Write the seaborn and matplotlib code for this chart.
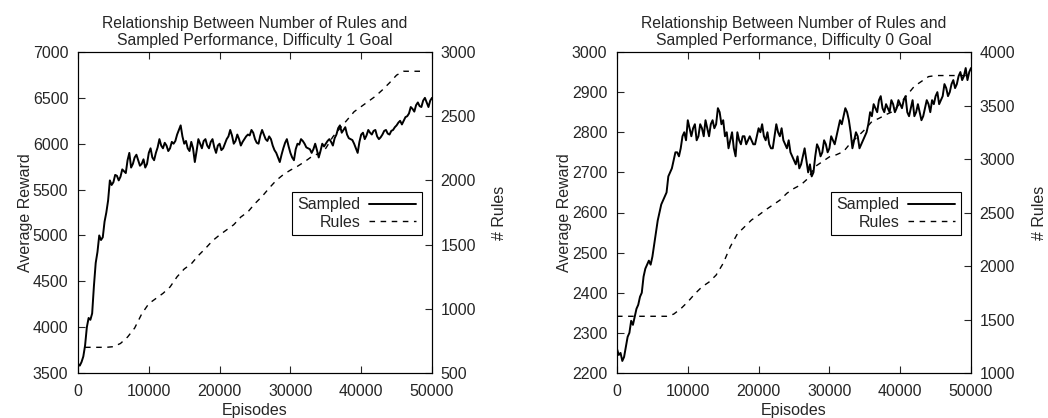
import numpy as np
import pandas as pd
import matplotlib
matplotlib.use("Agg")
import matplotlib.pyplot as plt
import seaborn as sns

# Reward curves read every 250 episodes, rule counts every 1000
episodes = list(range(0, 50001, 250))

sampled_d1 = [
    3600, 3580, 3620, 3680, 3800, 4000, 4100, 4080, 4150, 4450,
    4700, 4820, 5000, 4950, 4980, 5150, 5250, 5380, 5600, 5550,
    5580, 5660, 5650, 5600, 5640, 5720, 5700, 5680, 5820, 5900,
    5740, 5780, 5850, 5880, 5820, 5760, 5780, 5830, 5740, 5780,
    5900, 5950, 5850, 5820, 5900, 5960, 6050, 5980, 5950, 6010,
    5980, 5920, 5950, 6020, 6000, 6030, 6100, 6150, 6200, 6080,
    6000, 6030, 5950, 5920, 6020, 5950, 5800, 5920, 6050, 6000,
    5950, 6030, 6050, 5980, 5950, 6020, 6050, 5960, 5900, 5980,
    6000, 5930, 5950, 6000, 6050, 6080, 6150, 6090, 6000, 6030,
    6100, 6050, 5980, 6020, 6050, 6080, 6100, 6090, 6150, 6120,
    6050, 6010, 6000, 6090, 6150, 6100, 6050, 6030, 6080, 6050,
    5980, 5930, 5900, 5850, 5800, 5880, 5950, 6010, 6050, 5970,
    5900, 5850, 5820, 5940, 6000, 5990, 6050, 6030, 6000, 5960,
    5950, 5940, 5900, 5940, 6000, 5930, 5850, 5920, 6000, 5970,
    6000, 6030, 6050, 6020, 5980, 6060, 6100, 6170, 6200, 6120,
    6150, 6180, 6100, 6060, 6050, 6040, 6000, 5950, 5900, 6020,
    6100, 6120, 6050, 6090, 6150, 6120, 6100, 6140, 6150, 6080,
    6050, 6070, 6100, 6140, 6150, 6110, 6100, 6140, 6150, 6180,
    6200, 6230, 6250, 6210, 6250, 6290, 6300, 6330, 6400, 6380,
    6350, 6420, 6450, 6410, 6400, 6470, 6500, 6450, 6400, 6470,
    6500,
]

sampled_d0 = [
    2260, 2245, 2250, 2230, 2240, 2265, 2290, 2300, 2330, 2320,
    2340, 2360, 2370, 2390, 2400, 2440, 2460, 2470, 2480, 2470,
    2490, 2520, 2550, 2580, 2600, 2620, 2630, 2640, 2650, 2690,
    2700, 2710, 2730, 2750, 2750, 2740, 2760, 2790, 2800, 2780,
    2830, 2810, 2790, 2810, 2820, 2780, 2790, 2820, 2810, 2790,
    2830, 2810, 2790, 2820, 2830, 2810, 2820, 2860, 2850, 2820,
    2830, 2790, 2800, 2760, 2780, 2800, 2760, 2740, 2800, 2780,
    2770, 2790, 2790, 2770, 2780, 2790, 2780, 2770, 2770, 2790,
    2810, 2800, 2820, 2790, 2780, 2800, 2770, 2760, 2760, 2790,
    2820, 2800, 2790, 2810, 2780, 2770, 2760, 2780, 2750, 2740,
    2730, 2720, 2740, 2710, 2720, 2740, 2760, 2730, 2700, 2720,
    2690, 2700, 2740, 2770, 2760, 2740, 2750, 2780, 2770, 2750,
    2760, 2790, 2780, 2770, 2790, 2810, 2830, 2820, 2840, 2860,
    2850, 2830, 2800, 2760, 2780, 2800, 2790, 2760, 2770, 2780,
    2790, 2800, 2820, 2850, 2840, 2870, 2860, 2850, 2880, 2890,
    2860, 2850, 2870, 2860, 2850, 2880, 2870, 2850, 2860, 2880,
    2870, 2860, 2880, 2890, 2850, 2840, 2860, 2880, 2840, 2850,
    2870, 2850, 2830, 2840, 2860, 2880, 2870, 2850, 2880, 2870,
    2890, 2900, 2870, 2880, 2890, 2920, 2910, 2890, 2900, 2920,
    2930, 2910, 2920, 2940, 2950, 2930, 2940, 2960, 2930, 2950,
    2960,
]

rules_d1_ep = list(range(1000, 49001, 1000))
rules_d1 = [
    700, 700, 700, 700, 705, 730, 780, 850, 960, 1040,
    1080, 1120, 1170, 1250, 1310, 1350, 1415, 1470, 1530, 1575,
    1615, 1655, 1715, 1755, 1820, 1875, 1940, 2000, 2045, 2080,
    2110, 2145, 2185, 2210, 2250, 2340, 2405, 2470, 2535, 2575,
    2615, 2655, 2705, 2760, 2820, 2850, 2850, 2850, 2850,
]

rules_d0_ep = list(range(0, 50001, 1000))
rules_d0 = [
    1530, 1530, 1530, 1530, 1530, 1530, 1530, 1530, 1550, 1600,
    1665, 1740, 1805, 1850, 1915, 2025, 2180, 2300, 2365, 2430,
    2475, 2525, 2570, 2615, 2680, 2725, 2760, 2820, 2930, 2975,
    3020, 3040, 3070, 3150, 3210, 3275, 3350, 3380, 3415, 3445,
    3520, 3600, 3680, 3725, 3770, 3780, 3780, 3780, 3780, 3780,
    3780,
]

panels = [
    dict(title="Relationship Between Number of Rules and\nSampled Performance, Difficulty 1 Goal",
         sampled=sampled_d1, rules_ep=rules_d1_ep, rules=rules_d1,
         ylim=(3500, 7000), yticks=range(3500, 7001, 500),
         y2lim=(500, 3000), y2ticks=range(500, 3001, 500),
         rect=[78 / 1048, 45 / 418, 354 / 1048, 321 / 418]),
    dict(title="Relationship Between Number of Rules and\nSampled Performance, Difficulty 0 Goal",
         sampled=sampled_d0, rules_ep=rules_d0_ep, rules=rules_d0,
         ylim=(2200, 3000), yticks=range(2200, 3001, 100),
         y2lim=(1000, 4000), y2ticks=range(1000, 4001, 500),
         rect=[617 / 1048, 45 / 418, 354 / 1048, 321 / 418]),
]

FS = 11.5

sns.set_style("ticks")
plt.rcParams["font.family"] = ["Liberation Sans", "DejaVu Sans"]
plt.rcParams["font.size"] = FS

fig = plt.figure(figsize=(10.48, 4.18), dpi=100)

for p in panels:
    ax = fig.add_axes(p["rect"])
    ax2 = ax.twinx()
    df_s = pd.DataFrame({"ep": episodes, "val": p["sampled"]})
    df_r = pd.DataFrame({"ep": p["rules_ep"], "val": p["rules"]})
    sns.lineplot(data=df_s, x="ep", y="val", ax=ax, color="black", lw=1.4, label="Sampled", legend=False)
    sns.lineplot(data=df_r, x="ep", y="val", ax=ax2, color="black", lw=1.0, dashes=False,
                 linestyle=(0, (4, 4)), label="Rules", legend=False)

    ax.set_xlim(0, 50000)
    ax.set_ylim(*p["ylim"])
    ax.set_yticks(list(p["yticks"]))
    ax.set_xticks(range(0, 50001, 10000))
    ax2.set_ylim(*p["y2lim"])
    ax2.set_yticks(list(p["y2ticks"]))

    ax.tick_params(axis="x", direction="in", top=True, length=5, width=0.8, pad=8, labelsize=FS)
    ax.tick_params(axis="y", direction="in", right=False, length=5, width=0.8, pad=7, labelsize=FS)
    ax2.tick_params(axis="y", direction="in", length=5, width=0.8, pad=6, labelsize=FS)
    for a in (ax, ax2):
        for s in a.spines.values():
            s.set_linewidth(0.8)
            s.set_color("black")

    ax.set_xlabel("Episodes", fontsize=FS, labelpad=3)
    ax.set_ylabel("Average Reward", fontsize=FS, labelpad=0)
    ax2.set_ylabel("# Rules", fontsize=FS, labelpad=12)
    ax.set_title(p["title"], fontsize=11.3, pad=5)

    h1, l1 = ax.get_legend_handles_labels()
    h2, l2 = ax2.get_legend_handles_labels()
    leg = ax2.legend(h1 + h2, l1 + l2, loc="center right", bbox_to_anchor=(0.972, 0.497),
                     markerfirst=False, fancybox=False, shadow=False, framealpha=1,
                     edgecolor="black", fontsize=FS, handlelength=3.0, handletextpad=0.5,
                     borderpad=0.35, labelspacing=0.15, borderaxespad=0)
    leg.get_frame().set_linewidth(0.8)

fig.savefig("out.png", dpi=100)
